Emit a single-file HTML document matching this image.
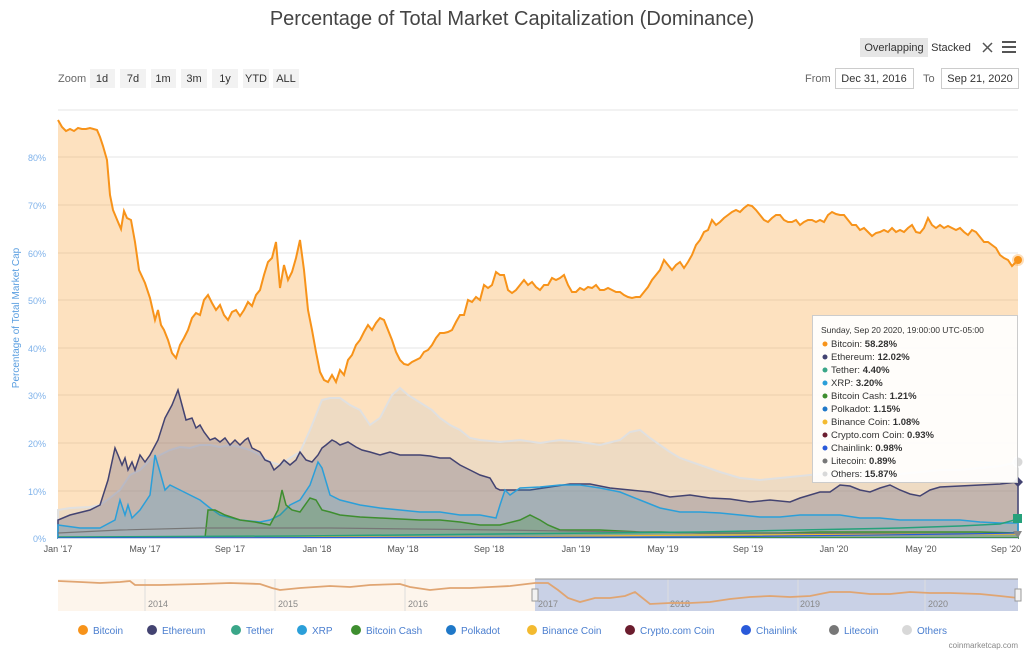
<!DOCTYPE html>
<html><head><meta charset="utf-8"><style>
body{margin:0;background:#fff;font-family:"Liberation Sans",sans-serif;}
svg text{font-family:"Liberation Sans",sans-serif;}
</style></head><body>
<svg width="1024" height="651" xmlns="http://www.w3.org/2000/svg">
<rect width="1024" height="651" fill="#fff"/>
<text x="512" y="25" text-anchor="middle" font-size="20" fill="#444">Percentage of Total Market Capitalization (Dominance)</text>
<rect x="860" y="38" width="68" height="19" fill="#e6e6e6"/>
<text x="894" y="51" text-anchor="middle" font-size="11" fill="#333">Overlapping</text>
<text x="951" y="51" text-anchor="middle" font-size="11" fill="#333">Stacked</text>
<g stroke="#555" stroke-width="1.5"><line x1="983" y1="43" x2="992" y2="52"/><line x1="992" y1="43" x2="983" y2="52"/></g>
<g fill="#555"><rect x="1002" y="41" width="14" height="2"/><rect x="1002" y="46" width="14" height="2"/><rect x="1002" y="51" width="14" height="2"/></g>
<text x="58" y="82" font-size="11" fill="#666">Zoom</text>
<g fill="#f2f2f2"><rect x="90" y="69" width="25" height="19"/><rect x="120" y="69" width="26" height="19"/><rect x="151" y="69" width="25" height="19"/><rect x="181" y="69" width="26" height="19"/><rect x="212" y="69" width="26" height="19"/><rect x="243" y="69" width="26" height="19"/><rect x="273" y="69" width="26" height="19"/></g>
<g font-size="11" fill="#333" text-anchor="middle"><text x="102" y="82">1d</text><text x="133" y="82">7d</text><text x="163" y="82">1m</text><text x="194" y="82">3m</text><text x="225" y="82">1y</text><text x="256" y="82">YTD</text><text x="286" y="82">ALL</text></g>
<text x="805" y="82" font-size="11" fill="#666">From</text>
<rect x="835.5" y="68.5" width="78" height="20" fill="#fff" stroke="#ccc"/>
<text x="874" y="82" font-size="11" fill="#333" text-anchor="middle">Dec 31, 2016</text>
<text x="923" y="82" font-size="11" fill="#666">To</text>
<rect x="941.5" y="68.5" width="77" height="20" fill="#fff" stroke="#ccc"/>
<text x="980" y="82" font-size="11" fill="#333" text-anchor="middle">Sep 21, 2020</text>
<g stroke="#e6e6e6"><line x1="58" y1="110" x2="1018" y2="110"/><line x1="58" y1="157" x2="1018" y2="157"/><line x1="58" y1="205" x2="1018" y2="205"/><line x1="58" y1="253" x2="1018" y2="253"/><line x1="58" y1="300" x2="1018" y2="300"/><line x1="58" y1="348" x2="1018" y2="348"/><line x1="58" y1="395" x2="1018" y2="395"/><line x1="58" y1="443" x2="1018" y2="443"/><line x1="58" y1="491" x2="1018" y2="491"/></g>
<g font-size="9" fill="#7fb2ea" text-anchor="end"><text x="46" y="161">80%</text><text x="46" y="209">70%</text><text x="46" y="257">60%</text><text x="46" y="304">50%</text><text x="46" y="352">40%</text><text x="46" y="399">30%</text><text x="46" y="447">20%</text><text x="46" y="495">10%</text><text x="46" y="542">0%</text></g>
<text transform="translate(19,318) rotate(-90)" text-anchor="middle" font-size="10" fill="#5a9ee0">Percentage of Total Market Cap</text>
<path fill="#f7931a" fill-opacity="0.28" stroke="none" d="M58,538 L58,120 62,127 66,131 70,129 74,131 78,128 82,129 86,129 90,128 97,130 100,137 103,146 107,160 110,195 113,210 118,222 121,229 124,211 127,218 131,220 135,242 139,270 145,283 150,298 155,320 158,310 161,325 164,330 168,340 172,353 176,358 180,345 184,338 188,330 192,318 196,313 200,315 204,300 208,295 212,303 216,310 220,305 224,315 228,320 232,312 236,310 240,316 244,310 248,302 252,306 256,295 260,290 264,275 268,262 272,258 276,242 280,288 284,265 288,280 292,272 296,258 300,240 304,270 308,310 312,330 316,352 320,372 324,380 328,382 332,375 336,382 340,370 344,375 348,360 352,355 356,345 360,340 364,332 368,325 372,330 376,323 380,318 384,320 388,330 392,340 396,352 400,360 404,364 408,365 412,362 416,360 420,358 424,352 428,350 432,345 436,338 440,333 444,333 448,332 452,330 456,322 460,315 464,315 468,300 472,302 476,297 480,300 484,285 488,288 492,285 496,272 500,275 504,275 508,290 512,293 516,290 520,285 524,280 528,285 532,282 536,287 540,290 544,285 548,285 552,278 556,280 560,278 564,275 568,285 572,292 576,292 580,288 584,290 588,287 592,288 596,285 600,290 604,290 608,288 612,290 616,292 620,292 624,295 628,297 632,298 636,297 640,297 644,292 648,287 652,280 656,275 660,270 664,260 668,265 672,270 676,265 680,262 684,268 688,262 692,255 696,245 700,240 704,232 708,230 712,220 716,225 720,222 724,218 728,215 732,212 736,210 740,212 744,208 748,205 752,206 756,210 760,215 764,220 768,222 772,218 776,215 780,215 784,220 788,222 792,222 796,220 800,225 804,222 808,220 812,220 816,222 820,220 824,222 828,215 832,212 836,214 840,215 844,215 848,220 852,225 856,225 860,230 864,228 868,232 872,236 876,233 880,232 884,230 888,232 892,228 896,232 900,230 904,232 908,228 912,225 916,232 920,233 924,228 928,218 932,225 936,228 940,225 944,228 948,226 952,228 956,230 960,228 964,232 968,235 972,230 976,232 980,237 984,242 988,242 992,245 996,248 1000,255 1004,258 1008,260 1012,266 1018,260 L1018,538 Z"/>
<path fill="#cccccc" fill-opacity="0.3" stroke="#e0e0e0" stroke-width="2" d="M58,538 L58,510 70,508 90,507 100,505 110,498 120,490 130,475 140,470 150,460 160,455 170,450 180,447 190,448 200,445 210,445 220,447 230,445 240,447 250,450 260,455 270,462 280,465 290,458 300,452 310,430 318,410 322,400 330,398 340,398 350,405 360,410 370,425 380,418 392,395 400,388 408,395 416,400 424,405 432,410 440,418 450,425 460,430 470,438 480,440 500,442 520,440 540,443 560,440 580,442 600,445 620,440 630,432 640,430 650,438 660,445 670,452 680,458 700,465 720,472 740,478 760,480 780,478 800,476 820,474 840,475 860,474 880,475 900,474 920,472 940,470 960,470 980,468 1000,466 1018,462 L1018,538 Z"/>
<path fill="#434371" fill-opacity="0.25" stroke="#434371" stroke-width="1.5" d="M58,538 L58,520 70,515 90,510 100,505 108,480 115,448 118,455 122,465 125,458 128,470 132,462 135,470 140,455 145,462 150,455 158,440 165,418 172,405 178,390 182,405 186,420 192,418 196,428 200,425 204,432 210,440 215,438 220,442 225,438 230,445 235,440 240,445 245,440 248,438 252,448 256,450 260,452 265,460 270,462 274,470 280,465 284,460 290,465 296,460 300,452 306,460 312,462 318,455 322,448 326,445 332,440 336,442 340,445 348,442 356,447 362,450 370,452 380,455 390,452 400,455 410,455 420,455 430,456 440,458 450,458 460,465 470,470 480,475 490,478 496,488 500,490 510,490 530,490 550,487 570,484 590,484 610,488 630,490 650,492 670,497 690,495 710,498 730,499 750,502 770,500 790,502 800,498 820,492 830,492 840,485 850,486 860,490 870,492 880,488 890,485 900,490 910,494 920,496 930,490 940,487 960,486 980,485 1000,484 1018,482 L1018,538 Z"/>
<path fill="#2b9fd9" fill-opacity="0.2" stroke="#2b9fd9" stroke-width="1.5" d="M58,538 L58,525 80,528 100,528 115,520 120,500 125,515 128,505 132,518 140,510 150,495 155,455 160,472 165,490 170,485 180,490 190,495 200,500 210,508 220,515 240,520 260,522 270,520 280,515 290,505 300,500 310,485 318,462 322,468 330,495 340,500 360,505 380,508 400,510 420,512 440,512 460,515 480,515 496,518 500,505 505,490 510,495 520,488 540,487 560,485 580,485 600,488 620,492 640,500 660,508 680,512 700,512 720,513 740,515 760,517 780,517 800,515 820,515 840,515 860,518 880,518 900,520 920,520 940,520 960,520 980,522 1000,523 1018,523 L1018,538 Z"/>
<path fill="#3a8a2e" fill-opacity="0.25" stroke="#3e8e2f" stroke-width="1.5" d="M205,538 L208,510 215,510 225,515 240,520 255,522 270,525 278,510 282,490 286,505 292,510 300,512 310,498 316,500 322,510 330,512 340,515 360,517 380,518 400,519 420,520 440,520 460,522 480,525 500,525 520,520 530,515 540,520 548,525 560,530 580,530 600,530 620,531 640,532 660,532 700,533 740,533 780,533 820,532 860,532 900,532 940,532 980,532 1018,533 L1018,538 Z"/>
<polyline fill="none" stroke="#777" stroke-width="1.2" points="58,533 120,530 200,528 330,528 500,530 700,533 1018,534"/>
<polyline fill="none" stroke="#f3ba2f" stroke-width="1.2" points="58,537 500,537 700,535 1018,534"/>
<polyline fill="none" stroke="#26a17b" stroke-width="1.5" points="58,537 300,536 500,534 600,533 700,532 800,530 900,528 960,526 1000,524 1018,519"/>
<polyline fill="none" stroke="#2a5ada" stroke-width="1.2" points="58,538 700,537 960,534 1018,533"/>
<polyline fill="none" stroke="#f7931a" stroke-width="2" points="58,120 62,127 66,131 70,129 74,131 78,128 82,129 86,129 90,128 97,130 100,137 103,146 107,160 110,195 113,210 118,222 121,229 124,211 127,218 131,220 135,242 139,270 145,283 150,298 155,320 158,310 161,325 164,330 168,340 172,353 176,358 180,345 184,338 188,330 192,318 196,313 200,315 204,300 208,295 212,303 216,310 220,305 224,315 228,320 232,312 236,310 240,316 244,310 248,302 252,306 256,295 260,290 264,275 268,262 272,258 276,242 280,288 284,265 288,280 292,272 296,258 300,240 304,270 308,310 312,330 316,352 320,372 324,380 328,382 332,375 336,382 340,370 344,375 348,360 352,355 356,345 360,340 364,332 368,325 372,330 376,323 380,318 384,320 388,330 392,340 396,352 400,360 404,364 408,365 412,362 416,360 420,358 424,352 428,350 432,345 436,338 440,333 444,333 448,332 452,330 456,322 460,315 464,315 468,300 472,302 476,297 480,300 484,285 488,288 492,285 496,272 500,275 504,275 508,290 512,293 516,290 520,285 524,280 528,285 532,282 536,287 540,290 544,285 548,285 552,278 556,280 560,278 564,275 568,285 572,292 576,292 580,288 584,290 588,287 592,288 596,285 600,290 604,290 608,288 612,290 616,292 620,292 624,295 628,297 632,298 636,297 640,297 644,292 648,287 652,280 656,275 660,270 664,260 668,265 672,270 676,265 680,262 684,268 688,262 692,255 696,245 700,240 704,232 708,230 712,220 716,225 720,222 724,218 728,215 732,212 736,210 740,212 744,208 748,205 752,206 756,210 760,215 764,220 768,222 772,218 776,215 780,215 784,220 788,222 792,222 796,220 800,225 804,222 808,220 812,220 816,222 820,220 824,222 828,215 832,212 836,214 840,215 844,215 848,220 852,225 856,225 860,230 864,228 868,232 872,236 876,233 880,232 884,230 888,232 892,228 896,232 900,230 904,232 908,228 912,225 916,232 920,233 924,228 928,218 932,225 936,228 940,225 944,228 948,226 952,228 956,230 960,228 964,232 968,235 972,230 976,232 980,237 984,242 988,242 992,245 996,248 1000,255 1004,258 1008,260 1012,266 1018,260"/>
<circle cx="1018" cy="260" r="6" fill="#f7931a" fill-opacity="0.3"/><circle cx="1018" cy="260" r="4" fill="#f7931a"/>
<circle cx="1018" cy="462" r="5" fill="#d8d8d8" stroke="#fff"/>
<path d="M1018,477 L1023,482 1018,487 1013,482Z" fill="#434371"/>
<rect x="1013" y="514" width="9" height="9" fill="#26a17b"/>
<path d="M1013,531 L1022,531 1018,538Z" fill="#888"/>
<line x1="58" y1="538.5" x2="1018" y2="538.5" stroke="#ccd6eb"/>
<g font-size="9" fill="#555" text-anchor="middle"><text x="58" y="552">Jan '17</text><text x="145" y="552">May '17</text><text x="230" y="552">Sep '17</text><text x="317" y="552">Jan '18</text><text x="403" y="552">May '18</text><text x="489" y="552">Sep '18</text><text x="576" y="552">Jan '19</text><text x="663" y="552">May '19</text><text x="748" y="552">Sep '19</text><text x="834" y="552">Jan '20</text><text x="921" y="552">May '20</text><text x="1006" y="552">Sep '20</text></g>
<rect x="812.5" y="315.5" width="205" height="167" fill="#fff" fill-opacity="0.92" stroke="#ccc"/>
<g font-size="9.5" fill="#333">
<text x="821" y="333" font-size="8.5">Sunday, Sep 20 2020, 19:00:00 UTC-05:00</text>
<text x="831" y="347">Bitcoin: <tspan font-weight="bold">58.28%</tspan></text>
<text x="831" y="360">Ethereum: <tspan font-weight="bold">12.02%</tspan></text>
<text x="831" y="373">Tether: <tspan font-weight="bold">4.40%</tspan></text>
<text x="831" y="386">XRP: <tspan font-weight="bold">3.20%</tspan></text>
<text x="831" y="399">Bitcoin Cash: <tspan font-weight="bold">1.21%</tspan></text>
<text x="831" y="412">Polkadot: <tspan font-weight="bold">1.15%</tspan></text>
<text x="831" y="425">Binance Coin: <tspan font-weight="bold">1.08%</tspan></text>
<text x="831" y="438">Crypto.com Coin: <tspan font-weight="bold">0.93%</tspan></text>
<text x="831" y="451">Chainlink: <tspan font-weight="bold">0.98%</tspan></text>
<text x="831" y="464">Litecoin: <tspan font-weight="bold">0.89%</tspan></text>
<text x="831" y="477">Others: <tspan font-weight="bold">15.87%</tspan></text>
</g>
<g><circle cx="825" cy="344" r="2.5" fill="#f7931a"/><circle cx="825" cy="357" r="2.5" fill="#434371"/><circle cx="825" cy="370" r="2.5" fill="#3aa688"/><circle cx="825" cy="383" r="2.5" fill="#2b9fd9"/><circle cx="825" cy="396" r="2.5" fill="#3e8e2f"/><circle cx="825" cy="409" r="2.5" fill="#1f78c8"/><circle cx="825" cy="422" r="2.5" fill="#f3ba2f"/><circle cx="825" cy="435" r="2.5" fill="#6b1d2e"/><circle cx="825" cy="448" r="2.5" fill="#2a5ada"/><circle cx="825" cy="461" r="2.5" fill="#777"/><circle cx="825" cy="474" r="2.5" fill="#d8d8d8"/></g>
<rect x="58" y="579" width="477" height="32" fill="#fdf5ec"/>
<rect x="535" y="579" width="483" height="32" fill="#c9d1e6"/>
<g stroke="#ddd"><line x1="145" y1="579" x2="145" y2="611"/><line x1="275" y1="579" x2="275" y2="611"/><line x1="405" y1="579" x2="405" y2="611"/><line x1="668" y1="579" x2="668" y2="611"/><line x1="798" y1="579" x2="798" y2="611"/><line x1="925" y1="579" x2="925" y2="611"/></g>
<g font-size="9" fill="#888"><text x="148" y="607">2014</text><text x="278" y="607">2015</text><text x="408" y="607">2016</text><text x="538" y="607">2017</text><text x="670" y="607">2018</text><text x="800" y="607">2019</text><text x="928" y="607">2020</text></g>
<polyline fill="none" stroke="#e0a572" stroke-width="1.8" points="58,581 80,582 100,583 120,582 130,581 135,585 160,585 200,584 230,583 260,584 272,588 280,590 300,588 330,586 350,587 370,585 400,584 410,587 430,590 450,588 470,588 490,587 510,586 535,583 548,583 558,590 568,598 580,602 595,598 610,598 625,596 635,592 640,596 650,604 670,603 690,603 710,602 730,599 750,597 770,596 790,597 810,596 830,592 850,592 870,594 890,594 910,592 930,593 950,593 980,594 1000,596 1018,598"/>
<line x1="535" y1="579" x2="1018" y2="579" stroke="#999"/>
<rect x="532" y="589" width="6" height="12" fill="#f2f2f2" stroke="#999"/>
<rect x="1015" y="589" width="6" height="12" fill="#f2f2f2" stroke="#999"/>
<g font-size="10" fill="#4a7ecf">
<circle cx="83" cy="630" r="5" fill="#f7931a"/><text x="93" y="634">Bitcoin</text>
<circle cx="152" cy="630" r="5" fill="#434371"/><text x="162" y="634">Ethereum</text>
<circle cx="236" cy="630" r="5" fill="#3aa688"/><text x="246" y="634">Tether</text>
<circle cx="302" cy="630" r="5" fill="#2b9fd9"/><text x="312" y="634">XRP</text>
<circle cx="356" cy="630" r="5" fill="#3e8e2f"/><text x="366" y="634">Bitcoin Cash</text>
<circle cx="451" cy="630" r="5" fill="#1f78c8"/><text x="461" y="634">Polkadot</text>
<circle cx="532" cy="630" r="5" fill="#f3ba2f"/><text x="542" y="634">Binance Coin</text>
<circle cx="630" cy="630" r="5" fill="#6b1d2e"/><text x="640" y="634">Crypto.com Coin</text>
<circle cx="746" cy="630" r="5" fill="#2a5ada"/><text x="756" y="634">Chainlink</text>
<circle cx="834" cy="630" r="5" fill="#777"/><text x="844" y="634">Litecoin</text>
<circle cx="907" cy="630" r="5" fill="#d8d8d8"/><text x="917" y="634">Others</text>
</g>
<text x="1018" y="648" font-size="8" fill="#888" text-anchor="end">coinmarketcap.com</text>
</svg>
</body></html>
